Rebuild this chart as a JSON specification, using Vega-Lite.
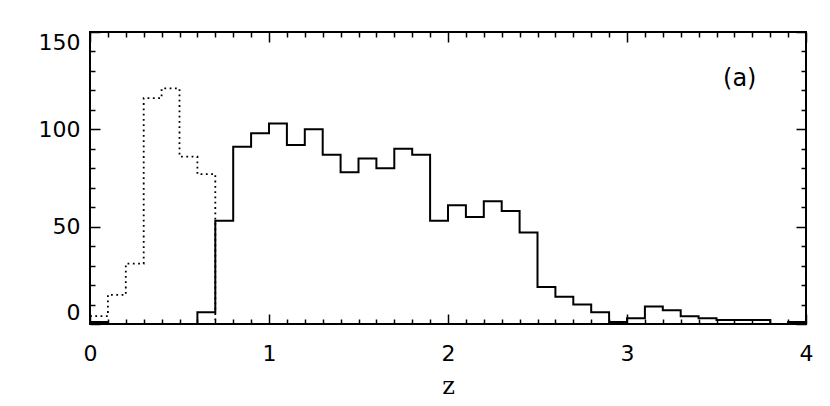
{
  "$schema": "https://vega.github.io/schema/vega-lite/v6.json",
  "width": 716,
  "height": 292,
  "autosize": "none",
  "padding": {"left": 90, "top": 32, "right": 24, "bottom": 82},
  "background": "white",
  "config": {
    "view": {"stroke": "black", "strokeWidth": 2},
    "font": "DejaVu Sans",
    "axis": {"domain": false, "grid": false, "tickColor": "black", "labelColor": "black", "titleColor": "black"}
  },
  "datasets": {
    "solid": [
      {"z": 0.0, "n": 1}, {"z": 0.1, "n": 0}, {"z": 0.2, "n": 0}, {"z": 0.3, "n": 0}, {"z": 0.4, "n": 0},
      {"z": 0.5, "n": 0}, {"z": 0.6, "n": 6}, {"z": 0.7, "n": 53}, {"z": 0.8, "n": 91}, {"z": 0.9, "n": 98},
      {"z": 1.0, "n": 103}, {"z": 1.1, "n": 92}, {"z": 1.2, "n": 100}, {"z": 1.3, "n": 87}, {"z": 1.4, "n": 78},
      {"z": 1.5, "n": 85}, {"z": 1.6, "n": 80}, {"z": 1.7, "n": 90}, {"z": 1.8, "n": 87}, {"z": 1.9, "n": 53},
      {"z": 2.0, "n": 61}, {"z": 2.1, "n": 55}, {"z": 2.2, "n": 63}, {"z": 2.3, "n": 58}, {"z": 2.4, "n": 47},
      {"z": 2.5, "n": 19}, {"z": 2.6, "n": 14}, {"z": 2.7, "n": 10}, {"z": 2.8, "n": 6}, {"z": 2.9, "n": 1},
      {"z": 3.0, "n": 3}, {"z": 3.1, "n": 9}, {"z": 3.2, "n": 7}, {"z": 3.3, "n": 4}, {"z": 3.4, "n": 3},
      {"z": 3.5, "n": 2}, {"z": 3.6, "n": 2}, {"z": 3.7, "n": 2}, {"z": 3.8, "n": 0}, {"z": 3.9, "n": 1},
      {"z": 4.0, "n": 1}
    ],
    "dotted": [
      {"z": 0.0, "n": 4}, {"z": 0.1, "n": 15}, {"z": 0.2, "n": 31}, {"z": 0.3, "n": 116}, {"z": 0.4, "n": 121},
      {"z": 0.5, "n": 86}, {"z": 0.6, "n": 77}, {"z": 0.7, "n": 0}, {"z": 0.8, "n": 0}
    ],
    "label": [{"z": 3.63, "n": 126, "t": "(a)"}]
  },
  "resolve": {"axis": {"x": "independent", "y": "independent"}},
  "layer": [
    {
      "data": {"name": "solid"},
      "mark": {"type": "line", "interpolate": "step-after", "color": "black", "strokeWidth": 2, "clip": true},
      "encoding": {
        "x": {"field": "z", "type": "quantitative", "scale": {"domain": [0, 4], "nice": false, "zero": false},
          "axis": {"orient": "bottom", "values": [0,0.1,0.2,0.3,0.4,0.5,0.6,0.7,0.8,0.9,1,1.1,1.2,1.3,1.4,1.5,1.6,1.7,1.8,1.9,2,2.1,2.2,2.3,2.4,2.5,2.6,2.7,2.8,2.9,3,3.1,3.2,3.3,3.4,3.5,3.6,3.7,3.8,3.9,4],
            "tickSize": {"condition": {"test": "abs(datum.value - round(datum.value)) < 0.001", "value": -10}, "value": -5},
            "tickWidth": 1.5,
            "labelExpr": "abs(datum.value - round(datum.value)) < 0.001 ? format(datum.value, 'd') : ''",
            "labelOverlap": false, "labelFontSize": 22, "labelPadding": 29, "labelFlush": false,
            "title": "z", "titleFont": "DejaVu Serif", "titleFontSize": 24, "titleFontWeight": "normal", "titlePadding": 5}},
        "y": {"field": "n", "type": "quantitative", "scale": {"domain": [0, 150], "nice": false, "zero": false},
          "axis": {"orient": "left", "values": [0,10,20,30,40,50,60,70,80,90,100,110,120,130,140,150],
            "tickSize": {"condition": {"test": "datum.value % 50 === 0", "value": -10}, "value": -5},
            "tickWidth": 1.5,
            "labelExpr": "datum.value % 50 === 0 ? format(datum.value, 'd') : ''",
            "labelOverlap": false, "labelFontSize": 22, "labelPadding": 20, "labelFlush": true,
            "title": null}}
      }
    },
    {
      "data": {"name": "dotted"},
      "mark": {"type": "line", "interpolate": "step-after", "color": "black", "strokeWidth": 1.8, "strokeDash": [1.8, 3.5], "clip": true},
      "encoding": {
        "x": {"field": "z", "type": "quantitative", "scale": {"domain": [0, 4], "nice": false, "zero": false},
          "axis": {"orient": "top", "values": [0,0.1,0.2,0.3,0.4,0.5,0.6,0.7,0.8,0.9,1,1.1,1.2,1.3,1.4,1.5,1.6,1.7,1.8,1.9,2,2.1,2.2,2.3,2.4,2.5,2.6,2.7,2.8,2.9,3,3.1,3.2,3.3,3.4,3.5,3.6,3.7,3.8,3.9,4],
            "tickSize": {"condition": {"test": "abs(datum.value - round(datum.value)) < 0.001", "value": -10}, "value": -5},
            "tickWidth": 1.5, "labels": false, "title": null}},
        "y": {"field": "n", "type": "quantitative", "scale": {"domain": [0, 150], "nice": false, "zero": false},
          "axis": {"orient": "right", "values": [0,10,20,30,40,50,60,70,80,90,100,110,120,130,140,150],
            "tickSize": {"condition": {"test": "datum.value % 50 === 0", "value": -10}, "value": -5},
            "tickWidth": 1.5, "labels": false, "title": null}}
      }
    },
    {
      "data": {"name": "label"},
      "mark": {"type": "text", "fontSize": 24, "font": "DejaVu Sans", "color": "black", "align": "center", "baseline": "middle"},
      "encoding": {
        "x": {"field": "z", "type": "quantitative", "axis": null},
        "y": {"field": "n", "type": "quantitative", "axis": null},
        "text": {"field": "t"}
      }
    }
  ]
}
